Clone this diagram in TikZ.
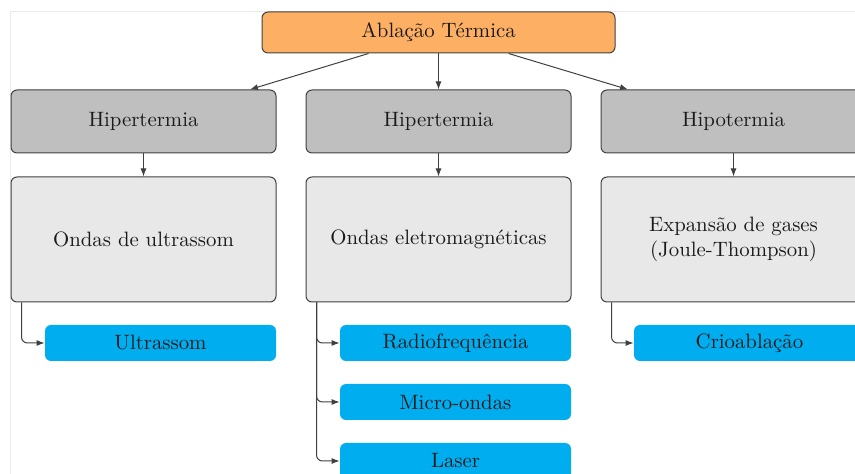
\documentclass[tikz,border=0pt]{standalone}
\usetikzlibrary{arrows.meta}
\definecolor{topfill}{HTML}{FDB063}
\definecolor{midfill}{HTML}{BFBFBF}
\definecolor{lowfill}{HTML}{E8E8E8}
\definecolor{leaffill}{HTML}{00ADEF}
\definecolor{edgecol}{HTML}{404040}
\definecolor{txtcol}{HTML}{1A1A1A}
\begin{document}
\begin{tikzpicture}[x=0.5pt,y=-0.5pt,
  every node/.style={font=\fontsize{10.4}{12.4}\selectfont},
  box/.style={draw=edgecol, line width=0.5pt, rounded corners=3pt, inner sep=0pt, align=center, text=txtcol},
  topbox/.style={box, fill=topfill, minimum width=176.5pt, minimum height=20.5pt},
  catbox/.style={box, fill=midfill, minimum width=132.5pt, minimum height=31.5pt},
  mechbox/.style={box, fill=lowfill, minimum width=132.5pt, minimum height=62.5pt},
  leafbox/.style={draw=none, fill=leaffill, rounded corners=3pt, inner sep=0pt, text=txtcol, minimum width=115.5pt, minimum height=18pt},
  conn/.style={draw=edgecol, line width=0.5pt, -{Latex[length=4pt,width=3pt]}},
  elbow/.style={conn, rounded corners=3pt}]
\useasboundingbox (0,0) rectangle (855,474);
\clip (0,0) rectangle (855,474);
\draw[black!8, line width=0.4pt] (10,11) rectangle (900,520);

\node[topbox] (top) at (438.5,32.5) {Ablação Térmica};

\node[catbox] (c1) at (143.5,121.5) {Hipertermia};
\node[catbox] (c2) at (438.5,121.5) {Hipertermia};
\node[catbox] (c3) at (733.5,121.5) {Hipotermia};

\node[mechbox] (m1) at (143.5,239.5) {Ondas de ultrassom};
\node[mechbox] (m2) at (438.5,239.5) {Ondas eletromagnéticas};
\node[mechbox] (m3) at (733.5,239.5) {Expansão de gases\\(Joule-Thompson)};

\node[leafbox] (l1) at (160.5,343) {Ultrassom};
\node[leafbox] (l2) at (455.5,343) {Radiofrequência};
\node[leafbox] (l3) at (455.5,402) {Micro-ondas};
\node[leafbox] (l4) at (455.5,461) {Laser};
\node[leafbox] (l5) at (749.5,343) {Crioablação};

\draw[conn] ([xshift=-35pt]top.south) -- ([xshift=53.25pt]c1.north);
\draw[conn] (top.south) -- (c2.north);
\draw[conn] ([xshift=35pt]top.south) -- ([xshift=-52.75pt]c3.north);

\draw[conn] (c1.south) -- (m1.north);
\draw[conn] (c2.south) -- (m2.north);
\draw[conn] (c3.south) -- (m3.north);

\draw[elbow] ([xshift=5.5pt]m1.south west) |- (l1.west);
\draw[elbow] ([xshift=5.5pt]m2.south west) |- (l2.west);
\draw[elbow] ([xshift=5.5pt]m2.south west) |- (l3.west);
\draw[elbow] ([xshift=5.5pt]m2.south west) |- (l4.west);
\draw[elbow] ([xshift=5.5pt]m3.south west) |- (l5.west);
\end{tikzpicture}
\end{document}
